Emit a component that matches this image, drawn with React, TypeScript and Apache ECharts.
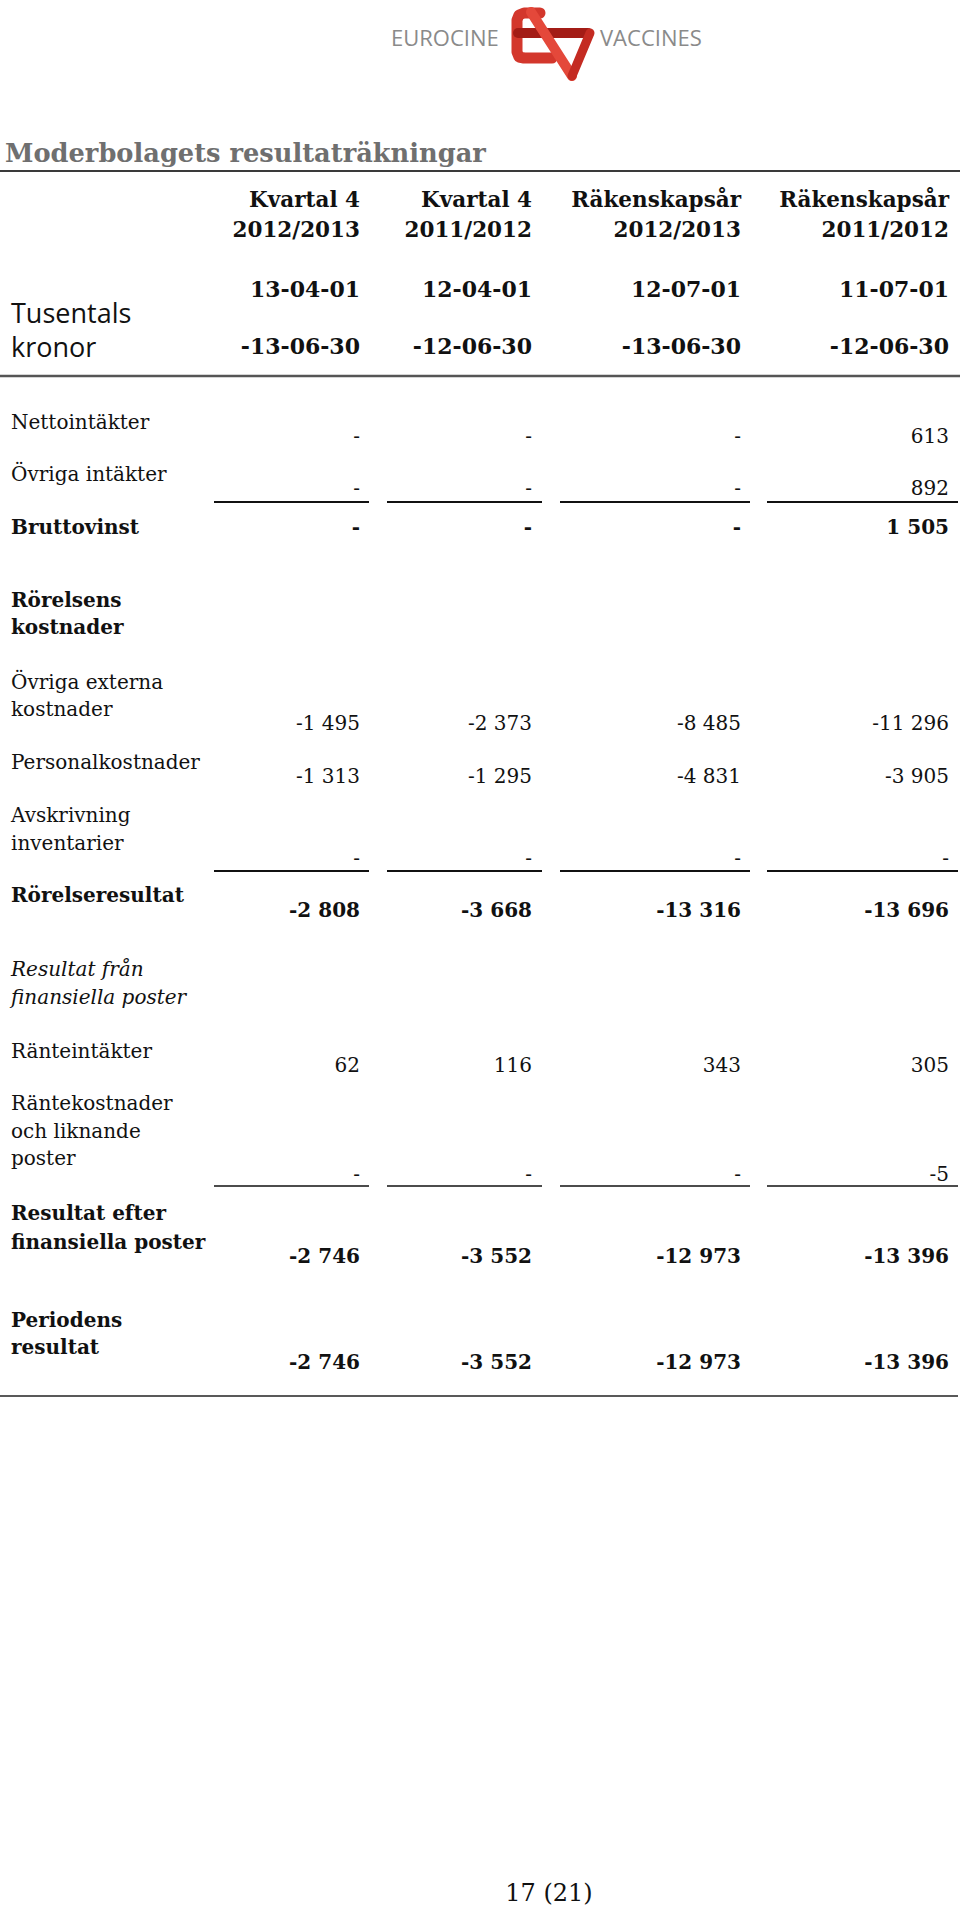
import React, { useEffect, useRef } from "react";
import * as echarts from "echarts";

// ---------- data ----------
const pageTitle = "Moderbolagets resultaträkningar";
const logoLeft = "EUROCINE";
const logoRight = "VACCINES";
const colTitle = ["Kvartal 4", "Kvartal 4", "Räkenskapsår", "Räkenskapsår"];
const colYears = ["2012/2013", "2011/2012", "2012/2013", "2011/2012"];
const periodStart = ["13-04-01", "12-04-01", "12-07-01", "11-07-01"];
const periodEnd = ["-13-06-30", "-12-06-30", "-13-06-30", "-12-06-30"];
const unitLabel = ["Tusentals", "kronor"];
const pageNumber = "17 (21)";

const nettointakter = [null, null, null, 613];
const ovrigaIntakter = [null, null, null, 892];
const bruttovinst = [null, null, null, 1505];
const ovrigaExterna = [-1495, -2373, -8485, -11296];
const personalkostnader = [-1313, -1295, -4831, -3905];
const avskrivning = [null, null, null, null];
const rorelseresultat = [-2808, -3668, -13316, -13696];
const ranteintakter = [62, 116, 343, 305];
const rantekostnader = [null, null, null, -5];
const resultatEfterFin = [-2746, -3552, -12973, -13396];
const periodensResultat = [-2746, -3552, -12973, -13396];

type Row = { label: string[]; values: (number | null)[] | null; kind: "normal" | "bold" | "italic" };
const rows: Row[] = [
  { label: ["Nettointäkter"], values: nettointakter, kind: "normal" },
  { label: ["Övriga intäkter"], values: ovrigaIntakter, kind: "normal" },
  { label: ["Bruttovinst"], values: bruttovinst, kind: "bold" },
  { label: ["Rörelsens", "kostnader"], values: null, kind: "bold" },
  { label: ["Övriga externa", "kostnader"], values: ovrigaExterna, kind: "normal" },
  { label: ["Personalkostnader"], values: personalkostnader, kind: "normal" },
  { label: ["Avskrivning", "inventarier"], values: avskrivning, kind: "normal" },
  { label: ["Rörelseresultat"], values: rorelseresultat, kind: "bold" },
  { label: ["Resultat från", "finansiella poster"], values: null, kind: "italic" },
  { label: ["Ränteintäkter"], values: ranteintakter, kind: "normal" },
  { label: ["Räntekostnader", "och liknande", "poster"], values: rantekostnader, kind: "normal" },
  { label: ["Resultat efter", "finansiella poster"], values: resultatEfterFin, kind: "bold" },
  { label: ["Periodens", "resultat"], values: periodensResultat, kind: "bold" },
];

// ---------- layout ----------
const W = 960;
const H = 1911;
const colRight = [360, 532, 741, 949];
const segX = [[214, 369], [387, 542], [560, 750], [767, 958]];
const rowLabelY = [[422], [474], [527], [600, 627], [682, 709], [762], [815, 843], [895], [969, 997], [1051], [1103, 1131, 1158], [1213, 1242], [1320, 1347]];
const rowValueY = [436, 488, 527, 0, 723, 776, 858, 910, 0, 1065, 1174, 1256, 1362];
const segLines = [{ y: 502, w: 2 }, { y: 871, w: 2 }, { y: 1186, w: 1.5 }];

const SERIF = "'DejaVu Serif', serif";
const SANS = "'Open Sans', 'Liberation Sans', sans-serif";

function fmt(v: number | null): string {
  if (v == null) return "-";
  const s = String(Math.abs(v)).replace(/\B(?=(\d{3})+(?!\d))/g, " ");
  return (v < 0 ? "-" : "") + s;
}

function txt(text: string, x: number, y: number, o: any = {}) {
  return {
    type: "text",
    x,
    y,
    silent: true,
    style: {
      text,
      fill: o.fill || "#111",
      fontSize: o.fontSize || 20,
      fontFamily: o.fontFamily || SERIF,
      fontWeight: o.fontWeight || "normal",
      fontStyle: o.fontStyle || "normal",
      textAlign: o.align || "left",
      textVerticalAlign: "middle",
    },
  };
}

function hline(x1: number, x2: number, y: number, w: number, c: string) {
  return { type: "line", silent: true, shape: { x1, y1: y, x2, y2: y }, style: { stroke: c, lineWidth: w } };
}

function buildElements() {
  const els: any[] = [];
  // Logo
  els.push(txt(logoLeft, 391, 37, { fontFamily: SANS, fontSize: 22, fill: "#8a8a8a" }));
  els.push(txt(logoRight, 600, 37, { fontFamily: SANS, fontSize: 22, fill: "#8a8a8a" }));
  const poly = (pts: number[][], c: string, w: number) => ({
    type: "polyline",
    silent: true,
    shape: { points: pts },
    style: { stroke: c, lineWidth: w, fill: null, lineJoin: "round", lineCap: "round" },
  });
  els.push(poly([[540, 13], [524, 13], [519, 15], [517, 20], [517, 52], [519, 57], [524, 58], [552, 58]], "#d3372c", 11));
  els.push(poly([[518, 33], [588, 33]], "#a31c16", 10));
  els.push(poly([[531, 12], [572, 76]], "#e4483a", 10));
  els.push(poly([[590, 33], [572, 76]], "#c42b22", 9));

  // Title
  els.push(txt(pageTitle, 5, 153, { fontSize: 25.7, fontWeight: "bold", fill: "#6f6f6f" }));
  els.push(hline(0, W, 171, 2, "#3a3a3a"));

  // Column headers
  colRight.forEach((x, i) => {
    els.push(txt(colTitle[i], x, 199, { fontSize: 21.5, fontWeight: "bold", align: "right" }));
    els.push(txt(colYears[i], x, 229, { fontSize: 21.5, fontWeight: "bold", align: "right" }));
    els.push(txt(periodStart[i], x, 289, { fontSize: 22, fontWeight: "bold", align: "right" }));
    els.push(txt(periodEnd[i], x, 346, { fontSize: 22, fontWeight: "bold", align: "right" }));
  });
  els.push(txt(unitLabel[0], 11, 312, { fontFamily: SANS, fontSize: 27 }));
  els.push(txt(unitLabel[1], 11, 346, { fontFamily: SANS, fontSize: 27 }));
  els.push(hline(0, W, 376, 2.5, "#555"));

  // Body rows
  rows.forEach((r, ri) => {
    const lblOpts: any = { fontSize: 20 };
    if (r.kind === "bold") lblOpts.fontWeight = "bold";
    if (r.kind === "italic") lblOpts.fontStyle = "italic";
    r.label.forEach((l, li) => els.push(txt(l, 11, rowLabelY[ri][li], lblOpts)));
    if (r.values) {
      r.values.forEach((v, ci) => {
        els.push(
          txt(fmt(v), colRight[ci], rowValueY[ri], {
            fontSize: 20,
            fontWeight: r.kind === "bold" ? "bold" : "normal",
            align: "right",
          })
        );
      });
    }
  });

  segLines.forEach((s) => segX.forEach(([a, b]) => els.push(hline(a, b, s.y, s.w, "#111"))));
  els.push(hline(0, 958, 1396, 1.5, "#222"));

  els.push(txt(pageNumber, 549, 1893, { fontSize: 24, align: "center" }));
  return els;
}

export default function App() {
  const ref = useRef<HTMLDivElement>(null);
  useEffect(() => {
    if (!ref.current) return;
    const chart = echarts.init(ref.current, null, { renderer: "svg" });
    chart.setOption({
      animation: false,
      backgroundColor: "#ffffff",
      graphic: { elements: buildElements() },
    });
    return () => chart.dispose();
  }, []);
  return (
    <div
      ref={ref}
      style={{ position: "absolute", left: 0, top: 0, width: W, height: H, background: "#fff" }}
    />
  );
}
